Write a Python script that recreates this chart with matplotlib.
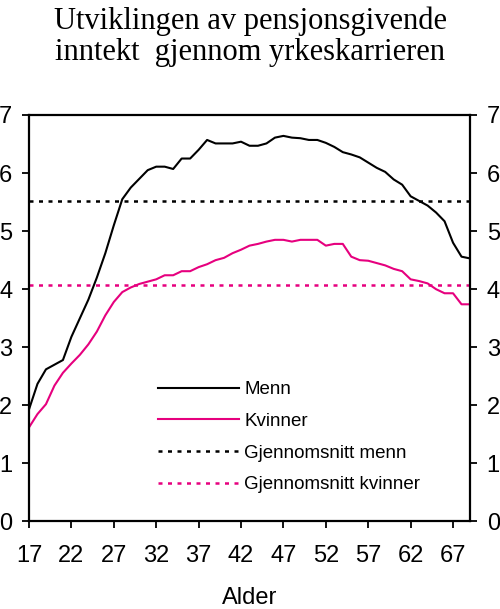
import matplotlib
matplotlib.use('Agg')
import matplotlib.pyplot as plt

# Alder 17-69
alder = list(range(17, 70))

menn = [1.93, 2.37, 2.62, 2.70, 2.78, 3.18, 3.50, 3.82, 4.20, 4.62,
        5.10, 5.55, 5.75, 5.90, 6.05, 6.11, 6.11, 6.07, 6.25, 6.25,
        6.40, 6.57, 6.51, 6.51, 6.51, 6.54, 6.47, 6.47, 6.51, 6.61,
        6.64, 6.61, 6.60, 6.57, 6.57, 6.52, 6.45, 6.36, 6.32, 6.27,
        6.18, 6.09, 6.02, 5.89, 5.80, 5.60, 5.52, 5.44, 5.32, 5.17,
        4.80, 4.56, 4.53]

kvinner = [1.62, 1.85, 2.02, 2.34, 2.56, 2.72, 2.87, 3.05, 3.27, 3.55,
           3.78, 3.95, 4.03, 4.09, 4.13, 4.17, 4.24, 4.24, 4.31, 4.31,
           4.38, 4.43, 4.50, 4.54, 4.62, 4.68, 4.75, 4.78, 4.82, 4.85,
           4.85, 4.82, 4.85, 4.85, 4.85, 4.75, 4.78, 4.78, 4.56, 4.50,
           4.49, 4.45, 4.41, 4.35, 4.31, 4.17, 4.14, 4.10, 4.00, 3.93,
           3.93, 3.74, 3.74]

snitt_menn = 5.52
snitt_kvinner = 4.08

xticks = [17, 22, 27, 32, 37, 42, 47, 52, 57, 62, 67]
yticks = [0, 1, 2, 3, 4, 5, 6, 7]

rosa = '#e6007e'

plt.rcParams['font.family'] = 'Liberation Sans'

fig = plt.figure(figsize=(5.0, 6.09), dpi=100)
ax = fig.add_axes([0.058, 0.1437, 0.882, 0.6675])

ax.plot(alder, menn, color='black', lw=1.5, label='Menn')
ax.plot(alder, kvinner, color=rosa, lw=1.5, label='Kvinner')
ax.axhline(snitt_menn, color='black', lw=1.8, dashes=(1.6, 2.2), label='Gjennomsnitt menn')
ax.axhline(snitt_kvinner, color=rosa, lw=1.8, dashes=(1.6, 2.2), label='Gjennomsnitt kvinner')

ax.set_xlim(17, 69)
ax.set_ylim(0, 7)
ax.set_xticks(xticks)
ax.set_yticks(yticks)

for s in ax.spines.values():
    s.set_linewidth(1.6)

ax.tick_params(axis='x', direction='out', length=5, width=1.3, labelsize=17, pad=12)
ax.tick_params(axis='y', direction='out', length=5, width=1.3, labelsize=17, pad=7,
               right=True, labelright=True)

ax.set_xlabel('Alder', fontsize=17, labelpad=14)

fig.text(0.5, 0.99, 'Utviklingen av pensjonsgivende\ninntekt  gjennom yrkeskarrieren',
         ha='center', va='top', fontsize=22, family='Liberation Serif', linespacing=1.12)

fig.legend(loc='upper left', bbox_to_anchor=(158 / 500, 1 - 381 / 609), frameon=False,
           fontsize=13.5, handlelength=4.3, handletextpad=0.3, labelspacing=0.78,
           borderpad=0, borderaxespad=0)

fig.savefig('out.png', dpi=100)
